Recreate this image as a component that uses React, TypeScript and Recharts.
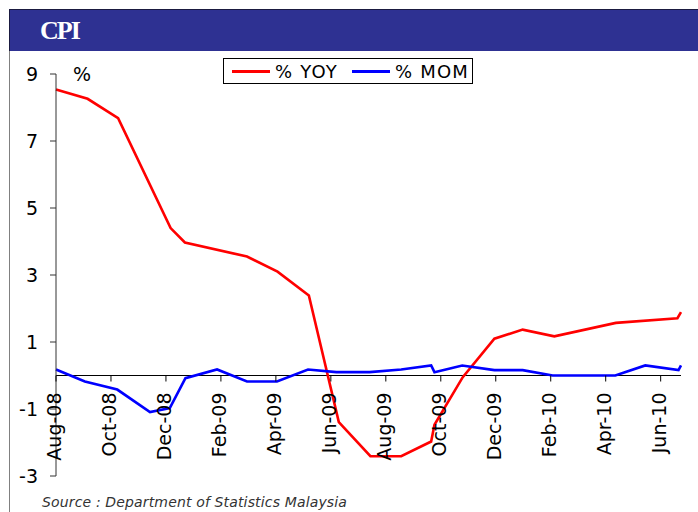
import { LineChart, Line, XAxis, YAxis, ReferenceLine } from "recharts";

// months counted from Aug-08 (0 = Aug-08)
const tickMonths = [0, 2, 4, 6, 8, 10, 12, 14, 16, 18, 20, 22];
const tickLabels = [
  "Aug-08", "Oct-08", "Dec-08", "Feb-09", "Apr-09", "Jun-09",
  "Aug-09", "Oct-09", "Dec-09", "Feb-10", "Apr-10", "Jun-10",
];
const yTicks = [-3, -1, 1, 3, 5, 7, 9];

const yoyMonths = [0, 1.15, 2.26, 4.17, 4.69, 6.95, 8.06, 9.2, 10.29, 11.44, 12.56, 13.65, 13.77, 14.8, 15.95, 16.98, 18.13, 20.37, 22.61, 22.74];
const yoyValues = [8.54, 8.26, 7.68, 4.4, 3.97, 3.55, 3.1, 2.39, -1.39, -2.41, -2.41, -1.97, -1.47, -0.05, 1.1, 1.37, 1.17, 1.57, 1.71, 1.89];

const momMonths = [0, 1.05, 2.23, 3.42, 4.14, 4.71, 5.86, 6.95, 8.04, 9.17, 10.2, 11.41, 12.56, 13.65, 13.77, 14.78, 15.95, 16.98, 18.07, 20.35, 21.44, 22.65, 22.74];
const momValues = [0.18, -0.18, -0.42, -1.09, -0.97, -0.08, 0.18, -0.18, -0.18, 0.18, 0.1, 0.1, 0.18, 0.3, 0.1, 0.3, 0.16, 0.16, 0, 0, 0.3, 0.16, 0.3];

const series = [
  { name: "% YOY", color: "#ff0000", data: yoyMonths.map((m, i) => ({ m, v: yoyValues[i] })) },
  { name: "% MOM", color: "#0000ff", data: momMonths.map((m, i) => ({ m, v: momValues[i] })) },
];

const W = 698;
const H = 512;
const margin = { top: 74, right: 17, bottom: 0, left: 10 };
const X_AXIS_H = 36;
const PLOT_H = H - margin.top - margin.bottom - X_AXIS_H;
const Y_MIN = yTicks[0];
const Y_MAX = yTicks[yTicks.length - 1];
// x axis crosses at 0, like the Excel original
const ZERO_Y = margin.top + (PLOT_H * Y_MAX) / (Y_MAX - Y_MIN);
const FONT = "'DejaVu Sans', Verdana, sans-serif";
const xMax = Math.max(...yoyMonths, ...momMonths);

function MonthTick({ x, payload }: { x?: number; payload?: { value: number } }) {
  if (x == null || !payload) return null;
  const label = tickLabels[tickMonths.indexOf(payload.value)];
  return (
    <g>
      <line x1={x} x2={x} y1={ZERO_Y} y2={ZERO_Y + 6} stroke="#000" />
      <text
        transform={`translate(${x + 5},${ZERO_Y + 17}) rotate(-90)`}
        textAnchor="end"
        fontSize={19}
        fontFamily={FONT}
        fill="#000"
      >
        {label}
      </text>
    </g>
  );
}

export default function App() {
  return (
    <div style={{ position: "absolute", left: 0, top: 0, width: W, height: H, background: "#fff", overflow: "hidden" }}>
      <div style={{ position: "absolute", left: 9, top: 51, width: 1, height: H - 51, background: "#808080" }} />
      <div
        style={{
          position: "absolute", left: 9, top: 9, width: W - 9, height: 42,
          background: "#2e3192", borderTop: "1px solid #1a1a40", borderLeft: "1px solid #1a1a40",
          boxSizing: "border-box",
        }}
      />
      <div
        style={{
          position: "absolute", left: 40, top: 18, color: "#fff",
          fontFamily: "'Liberation Serif', serif", fontWeight: 700, fontSize: 26,
          lineHeight: 1, letterSpacing: -2,
        }}
      >
        CPI
      </div>

      <div style={{ position: "absolute", left: 0, top: 0 }}>
        <LineChart width={W} height={H} margin={margin}>
          <XAxis
            type="number"
            dataKey="m"
            domain={[0, xMax]}
            ticks={tickMonths}
            height={X_AXIS_H}
            axisLine={false}
            tickLine={false}
            tickSize={0}
            tickMargin={0}
            tick={<MonthTick />}
            interval={0}
          />
          <YAxis
            domain={[Y_MIN, Y_MAX]}
            ticks={yTicks}
            width={46}
            tickSize={6}
            tickMargin={12}
            axisLine={{ stroke: "#333" }}
            tickLine={{ stroke: "#333" }}
            tick={{ fill: "#000", fontSize: 19, fontFamily: FONT }}
            interval={0}
          />
          <ReferenceLine y={0} stroke="#000" strokeWidth={1} ifOverflow="extendDomain" />
          {series.map((s) => (
            <Line
              key={s.name}
              data={s.data}
              dataKey="v"
              name={s.name}
              type="linear"
              stroke={s.color}
              strokeWidth={2.6}
              dot={false}
              isAnimationActive={false}
            />
          ))}
        </LineChart>
      </div>

      <div style={{ position: "absolute", left: 73, top: 63, fontFamily: FONT, fontSize: 19, color: "#000" }}>%</div>

      <div
        style={{
          position: "absolute", left: 223, top: 58, width: 250, height: 26, boxSizing: "border-box",
          border: "1px solid #000", background: "#fff", display: "flex", alignItems: "center",
          paddingLeft: 8, fontFamily: FONT, fontSize: 18, letterSpacing: 1.2,
        }}
      >
        {series.map((s, i) => (
          <div key={s.name} style={{ display: "flex", alignItems: "center", marginLeft: i ? 14 : 0 }}>
            <div style={{ width: 38, height: 3, background: s.color, marginRight: 5 }} />
            <span>{s.name}</span>
          </div>
        ))}
      </div>

      <div
        style={{
          position: "absolute", left: 42, top: 494, fontFamily: FONT, fontSize: 14,
          fontStyle: "italic", color: "#333", whiteSpace: "nowrap", letterSpacing: 0.15,
        }}
      >
        Source : Department of Statistics Malaysia
      </div>
    </div>
  );
}
